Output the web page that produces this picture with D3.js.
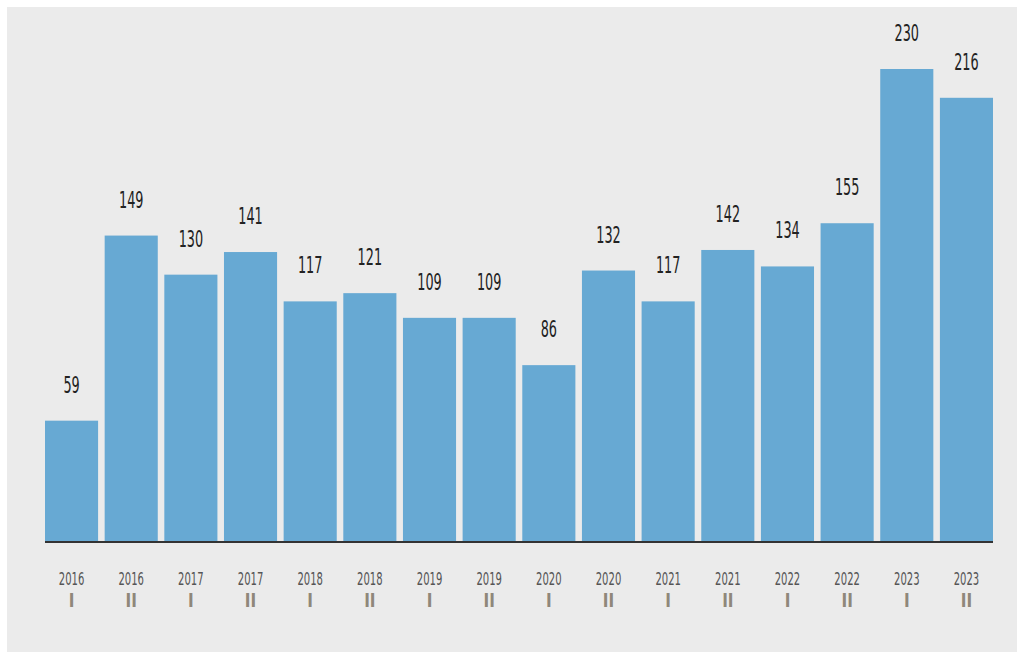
<!DOCTYPE html>
<html><head><meta charset="utf-8">
<script src="https://cdn.jsdelivr.net/npm/d3@7"></script>
<style>
html,body{margin:0;padding:0;background:#fff;}
text{font-family:"DejaVu Sans Condensed","DejaVu Sans",sans-serif;}
</style></head>
<body>
<svg id="chart" width="1020" height="656"></svg>
<script>
const years = ["2016","2016","2017","2017","2018","2018","2019","2019","2020","2020","2021","2021","2022","2022","2023","2023"];
const halves = ["I","II","I","II","I","II","I","II","I","II","I","II","I","II","I","II"];
const values = [59,149,130,141,117,121,109,109,86,132,117,142,134,155,230,216];

const svg = d3.select("#chart");
svg.append("rect").attr("x",7).attr("y",7).attr("width",1010).attr("height",645).attr("fill","#ebebeb");

const left = 45, right = 993, baseY = 542;
const idx = d3.range(values.length);
const x = d3.scaleBand().domain(idx).range([left, right]).paddingInner(0.11).paddingOuter(0);
const y = d3.scaleLinear().domain([0,230]).range([baseY, 69]);

svg.append("g").selectAll("rect").data(idx).join("rect")
  .attr("x", i => x(i)).attr("width", x.bandwidth())
  .attr("y", i => y(values[i])).attr("height", i => baseY - y(values[i]))
  .attr("fill","#67a9d3");

svg.append("g").selectAll("text").data(idx).join("text")
  .attr("transform", i => `translate(${x(i) + x.bandwidth()/2},${y(values[i]) - 28}) scale(0.62,1)`)
  .attr("text-anchor","middle")
  .attr("font-size",23)
  .attr("fill","#222")
  .text(i => values[i]);

const axis = d3.axisBottom(x).tickSize(0).tickFormat(() => "");
const ag = svg.append("g").attr("transform",`translate(0,${baseY})`).call(axis);
ag.select(".domain").attr("stroke","#333").attr("stroke-width",2).attr("d",`M${left},0H${right}`);

const lab = svg.append("g");
lab.selectAll("text.yr").data(idx).join("text").attr("class","yr")
  .attr("transform", i => `translate(${x(i) + x.bandwidth()/2},585) scale(0.62,1)`)
  .attr("text-anchor","middle").attr("font-size",18).attr("fill","#555")
  .text(i => years[i]);
lab.selectAll("text.hf").data(idx).join("text").attr("class","hf")
  .attr("transform", i => `translate(${x(i) + x.bandwidth()/2},607) scale(1,1.1)`)
  .attr("text-anchor","middle").attr("font-size",17).attr("font-weight","bold").attr("fill","#8f877a")
  .text(i => halves[i]);
</script>
</body></html>
